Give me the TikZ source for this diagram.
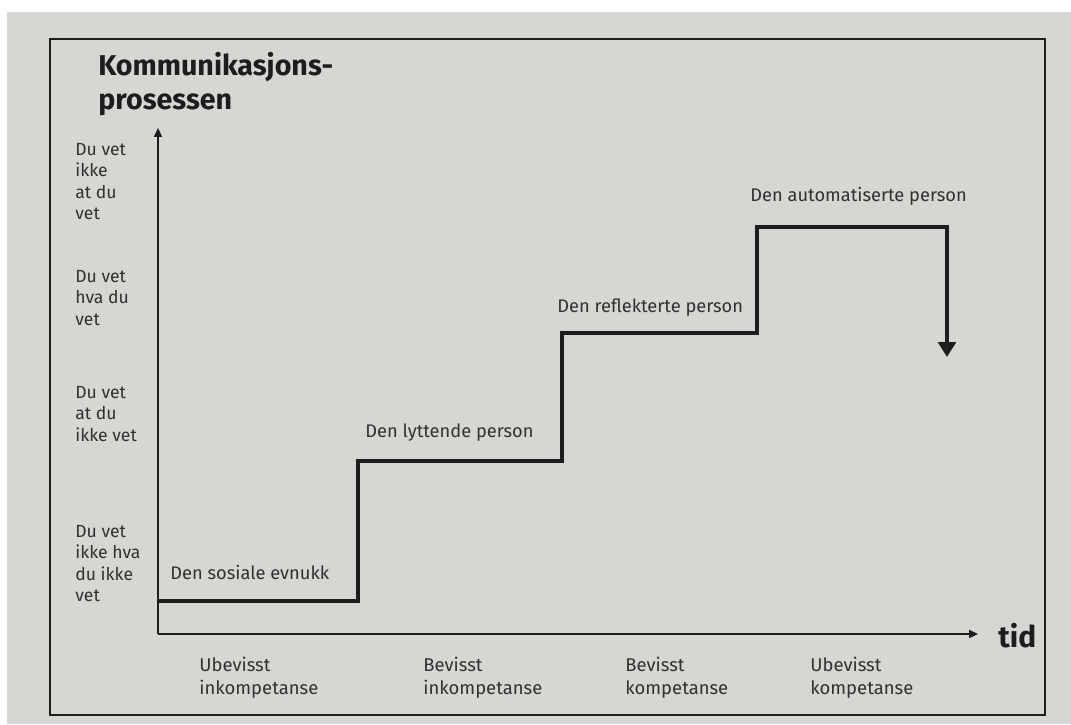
\documentclass[tikz,border=0pt]{standalone}
\usepackage{fontspec}
\setmainfont{Fira Sans}
\usepackage{xcolor}
\usetikzlibrary{positioning,arrows.meta}
\definecolor{paper}{RGB}{216,214,211}
\definecolor{ink}{RGB}{30,29,29}
\definecolor{print}{RGB}{50,48,48}

\begin{document}
\begin{tikzpicture}[x=0.02cm,y=-0.02cm,
    lbl/.style={font=\fontsize{10}{12.2}\selectfont, text=print, align=left, inner sep=0pt},
    kbl/.style={font=\fontsize{10.5}{13}\selectfont, text=print, align=left, inner sep=0pt},
    pbl/.style={font=\fontsize{10.4}{12.5}\selectfont, text=print, inner sep=0pt, anchor=base west},
    stair/.style={line width=2.8pt, draw=ink},
    axis/.style={line width=1pt, draw=ink, -{Triangle[length=5pt,width=4.5pt]}}]
    \useasboundingbox (0,0) rectangle (1071,724);
    \fill[white] (0,0) rectangle (1071,724);
    \fill[paper] (7,12) rectangle (1071,724);
    \draw[ink, line width=0.8pt] (50,39) rectangle (1045,715);

    % title
    \node[anchor=north west, inner sep=0pt, align=left, text=ink,
          font=\fontsize{16.3}{19.5}\selectfont\bfseries] (title) at (98,52) {Kommunikasjons-\\prosessen};

    % axes
    \coordinate (o) at (158,634);
    \coordinate (ytop) at (158,128);
    \coordinate (xend) at (978,634);
    \draw[axis] (o) -- (ytop);
    \draw[axis] (o) -- (xend);
    \node[anchor=west, inner sep=0pt, text=ink, font=\fontsize{17}{20}\selectfont\bfseries] (tid) at (998,636) {tid};

    % levels on the y axis
    \node[lbl, anchor=north west] (k1) at (75,143) {Du vet\\ikke\\at du\\vet};
    \node[lbl, anchor=north west] (k2) at (75,270) {Du vet\\hva du\\vet};
    \node[lbl, anchor=north west] (k3) at (75,386) {Du vet\\at du\\ikke vet};
    \node[lbl, anchor=north west] (k4) at (75,525) {Du vet\\ikke hva\\du ikke\\vet};

    % stages on the x axis
    \node[kbl, anchor=north west] (f1) at (199,657) {Ubevisst\\inkompetanse};
    \node[kbl, anchor=north west] (f2) at (423,657) {Bevisst\\inkompetanse};
    \node[kbl, anchor=north west] (f3) at (625,657) {Bevisst\\kompetanse};
    \node[kbl, anchor=north west] (f4) at (810,657) {Ubevisst\\kompetanse};

    % the staircase
    \coordinate (s0) at (158,601);
    \coordinate (s1) at (358,601);
    \coordinate (s2) at (358,461);
    \coordinate (s3) at (562,461);
    \coordinate (s4) at (562,333);
    \coordinate (s5) at (757,333);
    \coordinate (s6) at (757,227);
    \coordinate (s7) at (947,227);
    \coordinate (s8) at (947,357);
    \draw[stair, -{Triangle[length=8.5pt,width=10pt]}]
        (s0) -- (s1) -- (s2) -- (s3) -- (s4) -- (s5) -- (s6) -- (s7) -- (s8);

    \node[pbl] (p1) at (170,579) {Den sosiale evnukk};
    \node[pbl] (p2) at (365,437) {Den lyttende person};
    \node[pbl] (p3) at (557,312) {Den reflekterte person};
    \node[pbl] (p4) at (750,201) {Den automatiserte person};
\end{tikzpicture}
\end{document}
